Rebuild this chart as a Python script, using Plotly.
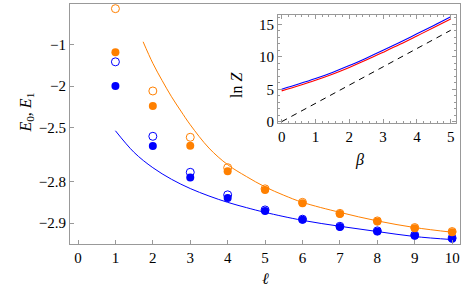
import plotly.graph_objects as go

# ---------------- data ----------------
ell = [1, 2, 3, 4, 5, 6, 7, 8, 9, 10]
E0_filled = [-2.0, -2.635, -2.785, -2.847, -2.877, -2.894, -2.906, -2.913, -2.919, -2.923]
E0_open = [-1.50, -2.57, -2.765, -2.839, -2.875, -2.893, -2.905, -2.912, -2.918, -2.922]
E1_filled = [-1.24, -2.285, -2.633, -2.761, -2.825, -2.860, -2.883, -2.897, -2.908, -2.914]
E1_open = [0.66, -2.08, -2.577, -2.746, -2.822, -2.858, -2.882, -2.896, -2.907, -2.913]

ell_fit0 = [1.0, 1.5, 2.0, 2.5, 3.0, 3.5, 4.0, 4.5, 5.0, 6.0, 7.0, 8.0, 9.0, 10.0]
E0_fit = [-2.528, -2.672, -2.746, -2.791, -2.821, -2.842, -2.858, -2.870, -2.880,
          -2.895, -2.905, -2.913, -2.920, -2.924]
ell_fit1 = [1.74, 2.0, 2.25, 2.5, 2.75, 3.0, 3.5, 4.0, 4.5, 5.0, 5.5, 6.0, 7.0, 8.0, 9.0, 10.0]
E1_fit = [-0.90, -1.536, -1.906, -2.165, -2.343, -2.478, -2.647, -2.733, -2.781, -2.816,
          -2.840, -2.858, -2.880, -2.896, -2.907, -2.914]

y_ticks_E = [-1, -2, -2.5, -2.8, -2.9]
y_tick_text = ["\u22121", "\u22122", "\u22122.5", "\u22122.8", "\u22122.9"]
OFFSET = 3.0  # axis scale: log(E + 3)

beta = [0, 0.5, 1, 1.5, 2, 2.5, 3, 3.5, 4, 4.5, 5]
lnZ_blue = [5.0, 5.8, 6.65, 7.6, 8.65, 9.8, 11.0, 12.25, 13.55, 14.85, 16.2]
lnZ_red = [4.75, 5.55, 6.4, 7.33, 8.37, 9.5, 10.7, 11.93, 13.22, 14.52, 15.85]
beta_dash = [0, 5]
lnZ_dash = [0, 14.1]

BLUE = "#0000FF"
ORANGE = "#FF8000"
RED = "#FF0000"
GRAY = "#999999"
FONT = "'Liberation Serif', 'Times New Roman', Times, serif"


def sh(vals):
    return [v + OFFSET for v in vals]


fig = go.Figure()

# fit curves
fig.add_trace(go.Scatter(x=ell_fit0, y=sh(E0_fit), mode="lines",
                         line=dict(color=BLUE, width=1, shape="spline", smoothing=1.0)))
fig.add_trace(go.Scatter(x=ell_fit1, y=sh(E1_fit), mode="lines",
                         line=dict(color=ORANGE, width=1, shape="spline", smoothing=1.0)))

# open markers
fig.add_trace(go.Scatter(x=ell, y=sh(E0_open), mode="markers",
                         marker=dict(symbol="circle-open", size=8, color=BLUE, line=dict(width=1, color=BLUE))))
fig.add_trace(go.Scatter(x=ell, y=sh(E1_open), mode="markers",
                         marker=dict(symbol="circle-open", size=8, color=ORANGE, line=dict(width=1, color=ORANGE))))
# filled markers
fig.add_trace(go.Scatter(x=ell, y=sh(E0_filled), mode="markers",
                         marker=dict(symbol="circle", size=8, color=BLUE, line=dict(width=0))))
fig.add_trace(go.Scatter(x=ell, y=sh(E1_filled), mode="markers",
                         marker=dict(symbol="circle", size=8, color=ORANGE, line=dict(width=0))))

# inset
fig.add_trace(go.Scatter(x=beta_dash, y=lnZ_dash, mode="lines", xaxis="x2", yaxis="y2",
                         line=dict(color="black", width=1, dash="6px,5px")))
fig.add_trace(go.Scatter(x=beta, y=lnZ_red, mode="lines", xaxis="x2", yaxis="y2",
                         line=dict(color=RED, width=1.1, shape="spline")))
fig.add_trace(go.Scatter(x=beta, y=lnZ_blue, mode="lines", xaxis="x2", yaxis="y2",
                         line=dict(color=BLUE, width=1.1, shape="spline")))

fig.update_layout(
    width=463, height=302,
    margin=dict(l=70, r=3, t=4, b=58),
    paper_bgcolor="white", plot_bgcolor="white",
    showlegend=False,
    font=dict(family=FONT, size=15, color="black"),
    xaxis=dict(
        range=[-0.214, 10.21], tickvals=list(range(0, 11)), ticks="inside", ticklen=4,
        tickcolor=GRAY, showline=True, linecolor=GRAY, linewidth=1, mirror=True,
        showgrid=False, zeroline=False, tickfont=dict(family=FONT, size=15),
    ),
    yaxis=dict(
        type="log", range=[-1.1513, 0.5975],
        tickvals=[v + OFFSET for v in y_ticks_E], ticktext=y_tick_text,
        ticks="inside", ticklen=4, tickcolor=GRAY, showline=True, linecolor=GRAY,
        linewidth=1, mirror=True, showgrid=False, zeroline=False,
        tickfont=dict(family=FONT, size=15),
    ),
    xaxis2=dict(
        domain=[0.5333, 0.989], anchor="y2", range=[-0.109, 5.148],
        tickvals=[0, 1, 2, 3, 4, 5], ticks="inside", ticklen=4, tickcolor=GRAY,
        minor=dict(dtick=0.2, ticks="inside", ticklen=2, tickcolor=GRAY),
        showline=True, linecolor=GRAY, linewidth=1, mirror="allticks",
        showgrid=False, zeroline=False, tickfont=dict(family=FONT, size=15),
    ),
    yaxis2=dict(
        domain=[0.503, 0.954], anchor="x2", range=[-0.25, 16.45],
        tickvals=[0, 5, 10, 15], ticks="inside", ticklen=4, tickcolor=GRAY,
        minor=dict(dtick=1, ticks="inside", ticklen=2, tickcolor=GRAY),
        showline=True, linecolor=GRAY, linewidth=1, mirror="allticks",
        showgrid=False, zeroline=False, tickfont=dict(family=FONT, size=15),
    ),
    annotations=[
        dict(text="<i>E</i><sub>0</sub>, <i>E</i><sub>1</sub>", textangle=-90,
             xref="paper", yref="paper", x=(14 - 70) / 390, y=(244 - 113) / 240,
             showarrow=False, font=dict(family=FONT, size=16)),
        dict(text="<i>\u2113</i>", xref="paper", yref="paper",
             x=(265 - 70) / 390, y=(244 - 289) / 240, showarrow=False,
             font=dict(family=FONT, size=16)),
        dict(text="ln <i>Z</i>", textangle=-90, xref="paper", yref="paper",
             x=(236 - 70) / 390, y=(244 - 70) / 240, showarrow=False,
             font=dict(family=FONT, size=16)),
        dict(text="<i>\u03b2</i>", xref="paper", yref="paper",
             x=(366 - 70) / 390, y=(244 - 171) / 240, showarrow=False,
             font=dict(family=FONT, size=16)),
    ],
)

fig.write_html(
    "out.html",
    config={"displayModeBar": False},
    post_script="document.body.style.margin='0';document.body.style.overflow='hidden';",
)
